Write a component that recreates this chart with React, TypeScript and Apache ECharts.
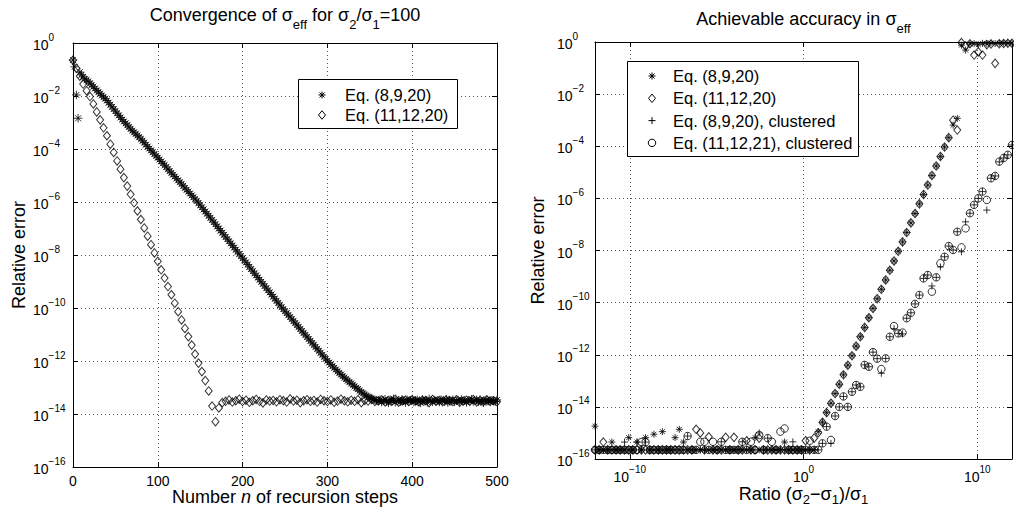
import React, { useEffect, useRef } from 'react';
import * as echarts from 'echarts';

const FONT = '"Liberation Sans", Arial, Helvetica, sans-serif';

// ---------- Left panel: convergence, sigma2/sigma1 = 100 ----------
// log10(relative error) of Eq. (8,9,20), at n = 0, 2, 4, ..., 500
const convStep8920 = 2;
const convLog8920 = [
  -0.64, -0.9, -1.96, -2.84, -1.1, -1.2, -1.28, -1.35, -1.4, -1.45,
  -1.52, -1.58, -1.65, -1.72, -1.79, -1.85, -1.91, -1.98, -2.04, -2.1,
  -2.17, -2.25, -2.33, -2.41, -2.49, -2.57, -2.65, -2.73, -2.81, -2.89,
  -2.96, -3.03, -3.1, -3.17, -3.24, -3.31, -3.37, -3.43, -3.49, -3.55,
  -3.62, -3.69, -3.76, -3.84, -3.91, -3.98, -4.05, -4.12, -4.19, -4.26,
  -4.33, -4.4, -4.47, -4.54, -4.61, -4.68, -4.76, -4.83, -4.9, -4.97,
  -5.04, -5.11, -5.18, -5.25, -5.32, -5.39, -5.47, -5.54, -5.61, -5.68,
  -5.75, -5.82, -5.89, -5.96, -6.04, -6.12, -6.2, -6.28, -6.36, -6.44,
  -6.52, -6.6, -6.68, -6.76, -6.84, -6.92, -7.0, -7.08, -7.16, -7.24,
  -7.32, -7.4, -7.48, -7.56, -7.64, -7.72, -7.8, -7.88, -7.96, -8.04,
  -8.12, -8.2, -8.28, -8.36, -8.45, -8.53, -8.61, -8.69, -8.77, -8.85,
  -8.93, -9.01, -9.09, -9.17, -9.25, -9.33, -9.41, -9.49, -9.57, -9.65,
  -9.73, -9.81, -9.89, -9.97, -10.04, -10.12, -10.19, -10.27, -10.34, -10.42,
  -10.49, -10.57, -10.64, -10.72, -10.79, -10.87, -10.94, -11.02, -11.09, -11.17,
  -11.24, -11.32, -11.39, -11.47, -11.54, -11.62, -11.69, -11.77, -11.84, -11.92,
  -11.99, -12.06, -12.13, -12.19, -12.26, -12.32, -12.39, -12.45, -12.51, -12.57,
  -12.63, -12.68, -12.74, -12.79, -12.85, -12.9, -12.96, -13.01, -13.06, -13.12,
  -13.17, -13.22, -13.27, -13.31, -13.35, -13.39, -13.42, -13.45, -13.47, -13.49,
  -13.52, -13.46, -13.55, -13.49, -13.44, -13.53, -13.58, -13.47, -13.5, -13.43,
  -13.56, -13.51, -13.48, -13.54, -13.45, -13.5, -13.57, -13.46, -13.52, -13.49,
  -13.44, -13.55, -13.5, -13.47, -13.53, -13.58, -13.45, -13.51, -13.48, -13.56,
  -13.43, -13.5, -13.54, -13.47, -13.52, -13.49, -13.55, -13.46, -13.5, -13.53,
  -13.44, -13.57, -13.48, -13.51, -13.46, -13.54, -13.5, -13.47, -13.55, -13.45,
  -13.52, -13.49, -13.56, -13.48, -13.51, -13.44, -13.53, -13.5, -13.47, -13.54,
  -13.46, -13.52, -13.58, -13.49, -13.45, -13.51, -13.55, -13.48, -13.5, -13.53,
  -13.47,
];

// log10(relative error) of Eq. (11,12,20), at n = 0, 4, 8, ..., 500
const convStep111220 = 4;
const convLog111220 = [
  -0.65, -0.95, -1.25, -1.55, -1.8, -2.02, -2.3, -2.6, -2.9, -3.2,
  -3.5, -3.82, -4.13, -4.45, -4.76, -5.08, -5.4, -5.71, -6.03, -6.34,
  -6.66, -6.98, -7.29, -7.61, -7.92, -8.24, -8.56, -8.87, -9.19, -9.5,
  -9.82, -10.14, -10.45, -10.77, -11.08, -11.4, -11.74, -12.08, -12.4, -12.74,
  -13.13, -13.7, -14.29, -13.77, -13.57, -13.52, -13.47, -13.55, -13.5, -13.44,
  -13.53, -13.48, -13.56, -13.5, -13.45, -13.52, -13.58, -13.47, -13.51, -13.49,
  -13.54, -13.46, -13.5, -13.55, -13.43, -13.51, -13.48, -13.57, -13.5, -13.46,
  -13.52, -13.49, -13.55, -13.45, -13.5, -13.53, -13.47, -13.56, -13.51, -13.44,
  -13.5, -13.54, -13.48, -13.52, -13.46, -13.57, -13.49, -13.51, -13.45, -13.53,
  -13.5, -13.47, -13.55, -13.49, -13.52, -13.44, -13.56, -13.5, -13.48, -13.53,
  -13.46, -13.51, -13.55, -13.48, -13.5, -13.57, -13.45, -13.52, -13.49, -13.54,
  -13.47, -13.5, -13.53, -13.46, -13.56, -13.51, -13.48, -13.52, -13.45, -13.55,
  -13.49, -13.53, -13.47, -13.51, -13.5, -13.54,
];

// ---------- Right panel: achievable accuracy ----------
// log10 of ratio (sigma2 - sigma1)/sigma1
const ratioExp = [
  -12, -11.76, -11.52, -11.27, -11.03, -10.79, -10.55, -10.3, -10.06, -9.82,
  -9.58, -9.33, -9.09, -8.85, -8.61, -8.36, -8.12, -7.88, -7.64, -7.39,
  -7.15, -6.91, -6.67, -6.42, -6.18, -5.94, -5.7, -5.45, -5.21, -4.97,
  -4.73, -4.48, -4.24, -4, -3.76, -3.52, -3.27, -3.03, -2.79, -2.55,
  -2.3, -2.06, -1.82, -1.58, -1.33, -1.09, -0.85, -0.61, -0.36, -0.12,
  0.12, 0.36, 0.61, 0.85, 1.09, 1.33, 1.58, 1.82, 2.06, 2.3,
  2.55, 2.79, 3.03, 3.27, 3.52, 3.76, 4, 4.24, 4.48, 4.73,
  4.97, 5.21, 5.45, 5.7, 5.94, 6.18, 6.42, 6.67, 6.91, 7.15,
  7.39, 7.64, 7.88, 8.12, 8.36, 8.61, 8.85, 9.09, 9.33, 9.58,
  9.82, 10.06, 10.3, 10.55, 10.79, 11.03, 11.27, 11.52, 11.76, 12,
];

// log10(relative error), Eq. (8,9,20)
const accLog8920 = [
  -14.74, -15.65, -15.65, -15.65, -15.35, -15.65, -15.65, -15.65, -15.18, -15.65,
  -15.35, -15.65, -15.18, -15.65, -15.05, -15.65, -14.95, -15.65, -15.65, -15.18,
  -14.86, -15.35, -15.65, -15.65, -15.65, -15.65, -15.65, -15.65, -15.65, -15.65,
  -15.65, -15.65, -15.65, -15.65, -15.65, -15.65, -15.65, -15.65, -15.18, -15.65,
  -15.65, -15.65, -15.65, -15.65, -15.65, -15.35, -15.65, -15.65, -15.65, -15.65,
  -15.65, -15.65, -15.65, -14.95, -14.59, -14.22, -13.86, -13.49, -13.13, -12.77,
  -12.4, -12.04, -11.67, -11.31, -10.95, -10.58, -10.22, -9.85, -9.49, -9.13,
  -8.76, -8.4, -8.03, -7.67, -7.31, -6.94, -6.58, -6.21, -5.85, -5.49,
  -5.12, -4.76, -4.39, -4.03, -3.67, -3.19, -2.93, -0.12, -0.31, -0.08,
  -0.06, -0.1, -0.05, -0.07, -0.04, -0.06, -0.05, -0.04, -0.05, -0.04,
];

// log10(relative error), Eq. (11,12,20)
const accLog111220 = [
  -15.65, -15.65, -15.35, -15.65, -15.65, -15.65, -15.65, -15.65, -15.65, -15.65,
  -15.65, -15.65, -15.65, -15.65, -15.65, -15.65, -15.65, -15.65, -15.65, -15.65,
  -15.65, -15.65, -15.65, -15.65, -14.86, -15.0, -15.65, -15.15, -15.65, -15.65,
  -15.65, -15.17, -15.65, -15.17, -15.65, -15.65, -15.3, -15.65, -15.65, -15.2,
  -15.65, -15.65, -15.65, -15.65, -15.65, -15.65, -15.65, -15.65, -15.65, -15.65,
  -15.3, -15.65, -15.2, -14.99, -14.59, -14.22, -13.86, -13.49, -13.13, -12.77,
  -12.4, -12.04, -11.67, -11.31, -10.95, -10.58, -10.22, -9.85, -9.49, -9.13,
  -8.76, -8.4, -8.03, -7.67, -7.31, -6.94, -6.58, -6.21, -5.85, -5.49,
  -5.12, -4.76, -4.39, -4.03, -3.67, -3.0, -3.38, -0.02, -0.15, -0.07,
  -0.5, -0.38, -0.5, -0.1, -0.08, -0.82, -0.07, -0.06, -0.05, -0.05,
];

// log10(relative error), Eq. (8,9,20), clustered
const accLog8920Cl = [
  -15.65, -15.65, -15.65, -15.65, -15.65, -15.65, -15.65, -15.35, -15.65, -15.65,
  -15.35, -15.65, -15.35, -15.65, -15.65, -15.65, -15.65, -15.65, -15.65, -15.65,
  -15.65, -15.65, -15.12, -15.65, -15.65, -15.65, -15.65, -15.65, -15.65, -15.65,
  -15.34, -15.65, -15.65, -15.65, -15.65, -15.34, -15.65, -15.65, -15.65, -15.0,
  -15.65, -15.2, -15.65, -15.65, -15.65, -15.65, -15.65, -15.34, -15.65, -15.65,
  -15.65, -15.65, -15.65, -15.65, -15.4, -14.76, -15.4, -14.35, -14.0, -13.6,
  -14.0, -13.42, -13.16, -13.23, -12.39, -12.46, -11.9, -12.15, -12.71, -12.14,
  -11.31, -11.0, -11.18, -11.2, -10.6, -10.39, -10.05, -9.71, -9.07, -8.94,
  -9.36, -9.03, -8.63, -8.24, -7.83, -7.98, -7.28, -8.05, -6.9, -6.57,
  -6.25, -6.0, -5.74, -6.45, -5.23, -5.14, -4.6, -4.45, -4.33, -3.95,
];

// log10(relative error), Eq. (11,12,21), clustered
const accLog111221Cl = [
  -15.65, -15.65, -15.65, -15.65, -15.65, -15.65, -15.65, -15.65, -15.65, -15.65,
  -15.65, -15.35, -15.35, -15.65, -15.65, -15.65, -15.65, -15.65, -15.65, -15.65,
  -15.65, -15.65, -15.12, -15.65, -15.65, -15.34, -15.34, -15.65, -15.34, -15.65,
  -15.34, -15.65, -15.65, -15.65, -15.65, -15.34, -15.65, -15.34, -15.65, -15.08,
  -15.65, -15.2, -15.34, -15.65, -14.95, -14.83, -15.65, -15.65, -15.65, -15.65,
  -15.65, -15.3, -15.65, -15.65, -15.4, -14.76, -15.27, -14.35, -14.0, -13.6,
  -14.0, -13.42, -13.16, -13.23, -12.39, -12.46, -11.9, -12.15, -12.55, -12.14,
  -11.31, -10.9, -11.18, -11.15, -10.6, -10.39, -10.05, -9.71, -9.07, -8.94,
  -9.58, -9.03, -8.49, -8.24, -7.83, -7.98, -7.28, -7.88, -7.15, -6.57,
  -6.25, -6.0, -5.74, -6.06, -5.23, -5.14, -4.59, -4.45, -4.33, -3.95,
];

const nameEq8920 = 'Eq. (8,9,20)';
const nameEq111220 = 'Eq. (11,12,20)';
const nameEq8920Cl = 'Eq. (8,9,20), clustered';
const nameEq111221Cl = 'Eq. (11,12,21), clustered';
const legendLeft = [nameEq8920, nameEq111220];
const legendLeftMarks = ['star', 'diamond'];
const legendRight = [nameEq8920, nameEq111220, nameEq8920Cl, nameEq111221Cl];
const legendRightMarks = ['star', 'diamond', 'plus', 'circle'];

const ratioTickExp = [-10, 0, 10];

// ---------- styling ----------
const STAR = 'path://M0,-1L0,1M-1,0L1,0M-0.7,-0.7L0.7,0.7M-0.7,0.7L0.7,-0.7';
const PLUS = 'path://M0,-1L0,1M-1,0L1,0';
const DIAMOND = 'path://M0,-1L0.82,0L0,1L-0.82,0Z';
const hollow = { color: 'rgba(0,0,0,0)', borderColor: '#000', borderWidth: 1 };

const supFmt = (v: number) => `{b|10}{s|${v < 0 ? '\u2212' + Math.abs(v) : String(v)}}`;
const supRich = {
  b: { fontSize: 14, lineHeight: 26, fontFamily: FONT, color: '#000' },
  s: { fontSize: 10, lineHeight: 12, verticalAlign: 'top', fontFamily: FONT, color: '#000' },
};
const axisLine = { show: true, onZero: false, lineStyle: { color: '#000', width: 1 } };
const axisTick = { show: true, inside: true, length: 5, lineStyle: { color: '#000', width: 1 } };
const splitLine = { show: true, lineStyle: { color: '#555', width: 1, type: [1, 3] } };
const noSplit = { show: false };
const noLabel = { show: false };

const titleRich = {
  a: { fontSize: 18, lineHeight: 32, fontFamily: FONT, color: '#000' },
  s: { fontSize: 13, lineHeight: 12, verticalAlign: 'bottom', fontFamily: FONT, color: '#000' },
};

// legend marker drawn with graphic primitives
function markerGraphic(kind: string, cx: number, cy: number) {
  const st = { stroke: '#000', lineWidth: 1, fill: 'none' };
  const z = 101;
  if (kind === 'star') {
    const r = 3.5, d = 2.5;
    return {
      type: 'group', z, children: [
        { type: 'line', z, shape: { x1: cx, y1: cy - r, x2: cx, y2: cy + r }, style: st },
        { type: 'line', z, shape: { x1: cx - r, y1: cy, x2: cx + r, y2: cy }, style: st },
        { type: 'line', z, shape: { x1: cx - d, y1: cy - d, x2: cx + d, y2: cy + d }, style: st },
        { type: 'line', z, shape: { x1: cx - d, y1: cy + d, x2: cx + d, y2: cy - d }, style: st },
      ],
    };
  }
  if (kind === 'plus') {
    const r = 3.5;
    return {
      type: 'group', z, children: [
        { type: 'line', z, shape: { x1: cx, y1: cy - r, x2: cx, y2: cy + r }, style: st },
        { type: 'line', z, shape: { x1: cx - r, y1: cy, x2: cx + r, y2: cy }, style: st },
      ],
    };
  }
  if (kind === 'diamond') {
    return {
      type: 'polygon', z,
      shape: { points: [[cx, cy - 4.25], [cx + 3.5, cy], [cx, cy + 4.25], [cx - 3.5, cy]] },
      style: st,
    };
  }
  return { type: 'circle', z, shape: { cx, cy, r: 3.75 }, style: st };
}

function legendGraphic(
  names: string[], marks: string[],
  box: { x: number; y: number; w: number; h: number },
  firstRow: number, rowStep: number, iconX: number, textX: number,
) {
  const items: any[] = [
    { type: 'rect', z: 100, shape: { x: box.x + 0.5, y: box.y + 0.5, width: box.w, height: box.h }, style: { fill: '#fff', stroke: '#000', lineWidth: 1 } },
  ];
  names.forEach((name, i) => {
    const cy = firstRow + i * rowStep;
    items.push(markerGraphic(marks[i], iconX, cy));
    items.push({
      type: 'text', z: 101, x: textX, y: cy,
      style: { text: name, fill: '#000', font: `16.5px ${FONT}`, align: 'left', verticalAlign: 'middle', textAlign: 'left', textVerticalAlign: 'middle' },
    });
  });
  return items;
}

function buildOption() {
  return {
    animation: false,
    backgroundColor: '#fff',
    textStyle: { fontFamily: FONT },
    grid: [
      { left: 73, top: 43, width: 424, height: 424, containLabel: false, outerBoundsMode: 'none' },
      { left: 595, top: 42, width: 417, height: 417, containLabel: false, outerBoundsMode: 'none' },
    ],
    xAxis: [
      {
        gridIndex: 0, type: 'value', min: 0, max: 500, interval: 100,
        axisLine, axisTick, splitLine,
        axisLabel: { fontSize: 14, color: '#000', margin: 7, fontFamily: FONT },
        name: '{a|Number }{i|n}{a| of recursion steps}',
        nameLocation: 'middle', nameGap: 19, nameMoveOverlap: false,
        nameTextStyle: {
          fontFamily: FONT, color: '#000', fontSize: 18,
          rich: {
            a: { fontSize: 18, lineHeight: 22, fontFamily: FONT, color: '#000' },
            i: { fontSize: 18, lineHeight: 22, fontStyle: 'italic', fontFamily: FONT, color: '#000' },
          },
        },
      },
      {
        gridIndex: 0, type: 'value', min: 0, max: 500, interval: 100, position: 'top',
        axisLine, axisTick, splitLine: noSplit, axisLabel: noLabel,
      },
      {
        gridIndex: 1, type: 'value', min: -12, max: 12,
        axisLine,
        axisTick: { ...axisTick, customValues: ratioTickExp },
        splitLine,
        axisLabel: { customValues: ratioTickExp, formatter: supFmt, rich: supRich, margin: 5 },
        name: '{a|Ratio (\u03c3}{s|2}{a|\u2212\u03c3}{s|1}{a|)/\u03c3}{s|1}',
        nameLocation: 'middle', nameGap: 23, nameMoveOverlap: false,
        nameTextStyle: {
          fontFamily: FONT, color: '#000', fontSize: 18,
          rich: {
            a: { fontSize: 18, lineHeight: 24, fontFamily: FONT, color: '#000' },
            s: { fontSize: 13, lineHeight: 12, verticalAlign: 'bottom', fontFamily: FONT, color: '#000' },
          },
        },
      },
      {
        gridIndex: 1, type: 'value', min: -12, max: 12, position: 'top',
        axisLine, axisTick: { ...axisTick, customValues: ratioTickExp }, splitLine: noSplit, axisLabel: noLabel,
      },
    ],
    yAxis: [
      {
        gridIndex: 0, type: 'value', min: -16, max: 0, interval: 2,
        axisLine, axisTick, splitLine,
        axisLabel: { formatter: supFmt, rich: supRich, align: 'left', margin: 40, padding: [4, 0, 0, 0] },
        name: 'Relative error', nameLocation: 'middle', nameGap: 45, nameMoveOverlap: false,
        nameTextStyle: { fontSize: 18, fontFamily: FONT, color: '#000' },
      },
      {
        gridIndex: 0, type: 'value', min: -16, max: 0, interval: 2, position: 'right',
        axisLine, axisTick, splitLine: noSplit, axisLabel: noLabel,
      },
      {
        gridIndex: 1, type: 'value', min: -16, max: 0, interval: 2,
        axisLine, axisTick, splitLine,
        axisLabel: { formatter: supFmt, rich: supRich, align: 'left', margin: 38, padding: [4, 0, 0, 0] },
        name: 'Relative error', nameLocation: 'middle', nameGap: 48, nameMoveOverlap: false,
        nameTextStyle: { fontSize: 18, fontFamily: FONT, color: '#000' },
      },
      {
        gridIndex: 1, type: 'value', min: -16, max: 0, interval: 2, position: 'right',
        axisLine, axisTick, splitLine: noSplit, axisLabel: noLabel,
      },
    ],
    graphic: [
      {
        type: 'text', x: 285, y: -1,
        style: {
          text: '{a|Convergence of \u03c3}{s|eff}{a| for \u03c3}{s|2}{a|/\u03c3}{s|1}{a|=100}',
          rich: titleRich, align: 'center', verticalAlign: 'top', textAlign: 'center', textVerticalAlign: 'top',
          fill: '#000', font: `18px ${FONT}`,
        },
      },
      {
        type: 'text', x: 803.5, y: 2.6,
        style: {
          text: '{a|Achievable accuracy in \u03c3}{s|eff}',
          rich: titleRich, align: 'center', verticalAlign: 'top', textAlign: 'center', textVerticalAlign: 'top',
          fill: '#000', font: `18px ${FONT}`,
        },
      },
      ...legendGraphic(legendLeft, legendLeftMarks, { x: 298, y: 79, w: 159, h: 49 }, 95, 20, 322, 345),
      ...legendGraphic(legendRight, legendRightMarks, { x: 627, y: 61, w: 231, h: 95 }, 76, 22.3, 652, 673),
    ],
    series: [
      {
        type: 'scatter', name: nameEq8920, xAxisIndex: 0, yAxisIndex: 0,
        data: convLog8920.map((v, i) => [i * convStep8920, v]),
        symbol: STAR, symbolSize: 8.5, itemStyle: hollow, silent: true,
      },
      {
        type: 'scatter', name: nameEq111220, xAxisIndex: 0, yAxisIndex: 0,
        data: convLog111220.map((v, i) => [i * convStep111220, v]),
        symbol: DIAMOND, symbolSize: [7, 8.5], itemStyle: hollow, silent: true,
      },
      {
        type: 'scatter', name: nameEq8920, xAxisIndex: 2, yAxisIndex: 2,
        data: accLog8920.map((v, i) => [ratioExp[i], v]),
        symbol: STAR, symbolSize: 7, itemStyle: hollow, silent: true,
      },
      {
        type: 'scatter', name: nameEq111220, xAxisIndex: 2, yAxisIndex: 2,
        data: accLog111220.map((v, i) => [ratioExp[i], v]),
        symbol: DIAMOND, symbolSize: [7, 8.5], itemStyle: hollow, silent: true,
      },
      {
        type: 'scatter', name: nameEq8920Cl, xAxisIndex: 2, yAxisIndex: 2,
        data: accLog8920Cl.map((v, i) => [ratioExp[i], v]),
        symbol: PLUS, symbolSize: 7, itemStyle: hollow, silent: true,
      },
      {
        type: 'scatter', name: nameEq111221Cl, xAxisIndex: 2, yAxisIndex: 2,
        data: accLog111221Cl.map((v, i) => [ratioExp[i], v]),
        symbol: 'circle', symbolSize: 7.5, itemStyle: hollow, silent: true,
      },
    ],
  };
}

export default function App() {
  const ref = useRef<HTMLDivElement>(null);
  useEffect(() => {
    document.body.style.margin = '0';
    const chart = echarts.init(ref.current as HTMLDivElement, undefined, { renderer: 'svg' });
    chart.setOption(buildOption() as any);
    return () => chart.dispose();
  }, []);
  return <div ref={ref} style={{ width: 1014, height: 509 }} />;
}
